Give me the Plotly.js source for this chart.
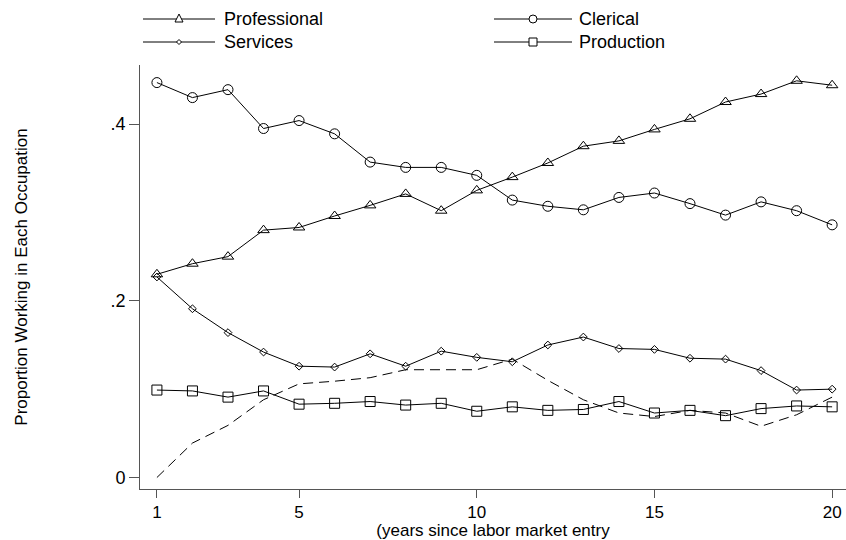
<!DOCTYPE html>
<html><head><meta charset="utf-8">
<script src="https://cdn.plot.ly/plotly-3.0.1.min.js"></script>
<style>html,body{margin:0;padding:0;background:#fff}#chart{width:846px;height:540px}</style>
</head><body><div id="chart"></div>
<script>
const years = [1,2,3,4,5,6,7,8,9,10,11,12,13,14,15,16,17,18,19,20];
const professional = [0.230,0.242,0.250,0.280,0.283,0.296,0.308,0.321,0.302,0.325,0.340,0.356,0.375,0.381,0.394,0.406,0.425,0.434,0.449,0.444];
const clerical = [0.447,0.430,0.439,0.395,0.404,0.389,0.357,0.351,0.351,0.342,0.314,0.307,0.303,0.317,0.322,0.310,0.297,0.312,0.302,0.286];
const services = [0.227,0.191,0.164,0.142,0.126,0.125,0.140,0.126,0.143,0.136,0.131,0.150,0.159,0.146,0.145,0.135,0.134,0.121,0.099,0.100];
const production = [0.099,0.098,0.091,0.098,0.083,0.084,0.086,0.082,0.084,0.075,0.080,0.076,0.077,0.086,0.073,0.076,0.070,0.078,0.081,0.080];
const dashedSeries = [0.000,0.039,0.059,0.088,0.106,0.109,0.113,0.122,0.122,0.122,0.134,0.110,0.088,0.073,0.069,0.076,0.073,0.058,0.071,0.091];
const xTickVals = [1,5,10,15,20];
const yTickVals = [0,0.2,0.4];
const yTickText = ['0','.2','.4'];
const legendNames = ['Professional','Clerical','Services','Production'];
const seriesSymbols = ['triangle-up-open','circle-open','diamond-open','square-open'];

const W = 846, H = 540;
const FONT = 'Liberation Sans, Arial, sans-serif';
const px = x => x / W;
const py = y => 1 - y / H;

function lineTrace(y, name, symbol, size) {
  return {x: years, y: y, name: name, type: 'scatter', mode: 'lines+markers',
    line: {color: '#000', width: 1},
    marker: {symbol: symbol, size: size, color: '#000', line: {color: '#000', width: 1}},
    showlegend: false, cliponaxis: false};
}
const traces = [
  lineTrace(professional, legendNames[0], seriesSymbols[0], 10),
  lineTrace(clerical, legendNames[1], seriesSymbols[1], 10),
  lineTrace(services, legendNames[2], seriesSymbols[2], 6),
  lineTrace(production, legendNames[3], seriesSymbols[3], 10),
  {x: years, y: dashedSeries, type: 'scatter', mode: 'lines', name: 'other',
   line: {color: '#000', width: 1, dash: '10px,6px'}, showlegend: false}
];

// manual legend (Stata-style keys)
const legendPos = [
  {x0: 143, x1: 215, y: 19, tx: 222},
  {x0: 494, x1: 572, y: 19, tx: 577},
  {x0: 143, x1: 215, y: 42, tx: 222},
  {x0: 494, x1: 572, y: 42, tx: 577}
];
const shapes = [];
const annotations = [];
legendPos.forEach((p, i) => {
  shapes.push({type: 'line', xref: 'paper', yref: 'paper', x0: px(p.x0), x1: px(p.x1), y0: py(p.y), y1: py(p.y), line: {color: '#000', width: 1}});
  const cx = (p.x0 + p.x1) / 2, cy = p.y;
  const r = 4;
  const sym = seriesSymbols[i];
  let path;
  if (sym.startsWith('triangle')) {
    path = `M${px(cx)},${py(cy - r - 1)} L${px(cx + r)},${py(cy + r - 1)} L${px(cx - r)},${py(cy + r - 1)} Z`;
    shapes.push({type: 'path', xref: 'paper', yref: 'paper', path: path, fillcolor: '#fff', line: {color: '#000', width: 1}});
  } else if (sym.startsWith('circle')) {
    shapes.push({type: 'circle', xref: 'paper', yref: 'paper', x0: px(cx - r), x1: px(cx + r), y0: py(cy + r), y1: py(cy - r), fillcolor: '#fff', line: {color: '#000', width: 1}});
  } else if (sym.startsWith('diamond')) {
    const d = 2.5;
    path = `M${px(cx)},${py(cy - d)} L${px(cx + d)},${py(cy)} L${px(cx)},${py(cy + d)} L${px(cx - d)},${py(cy)} Z`;
    shapes.push({type: 'path', xref: 'paper', yref: 'paper', path: path, fillcolor: '#fff', line: {color: '#000', width: 1}});
  } else {
    shapes.push({type: 'rect', xref: 'paper', yref: 'paper', x0: px(cx - r), x1: px(cx + r), y0: py(cy + r), y1: py(cy - r), fillcolor: '#fff', line: {color: '#000', width: 1}});
  }
  annotations.push({xref: 'paper', yref: 'paper', x: px(p.tx), y: py(p.y), xanchor: 'left', yanchor: 'middle',
    text: legendNames[i], showarrow: false, font: {family: FONT, size: 18, color: '#000'}});
});

const layout = {
  width: W, height: H,
  margin: {l: 0, r: 0, t: 0, b: 0},
  paper_bgcolor: '#fff', plot_bgcolor: '#fff',
  font: {family: FONT, color: '#000'},
  showlegend: false,
  xaxis: {domain: [140 / W, 1], range: [0.524, 20.39], showgrid: false, zeroline: false,
    showline: true, linecolor: '#555', linewidth: 1, ticks: 'outside', ticklen: 8, tickcolor: '#555', tickwidth: 1,
    tickvals: xTickVals, ticktext: xTickVals.map(String), tickfont: {family: FONT, size: 17, color: '#000'},
    title: {text: '(years since labor market entry', font: {family: FONT, size: 17, color: '#000'}, standoff: 3}},
  yaxis: {domain: [51 / H, 475 / H], range: [-0.013, 0.4669], showgrid: false, zeroline: false,
    showline: true, linecolor: '#555', linewidth: 1, ticks: 'outside', ticklen: 10, tickcolor: '#555', tickwidth: 1,
    tickvals: yTickVals, ticktext: yTickText, tickfont: {family: FONT, size: 18, color: '#000'},
    title: {text: 'Proportion Working in Each Occupation', font: {family: FONT, size: 17, color: '#000'}, standoff: 78}},
  shapes: shapes,
  annotations: annotations
};
Plotly.newPlot('chart', traces, layout, {displayModeBar: false, staticPlot: true});
</script>
</body></html>
